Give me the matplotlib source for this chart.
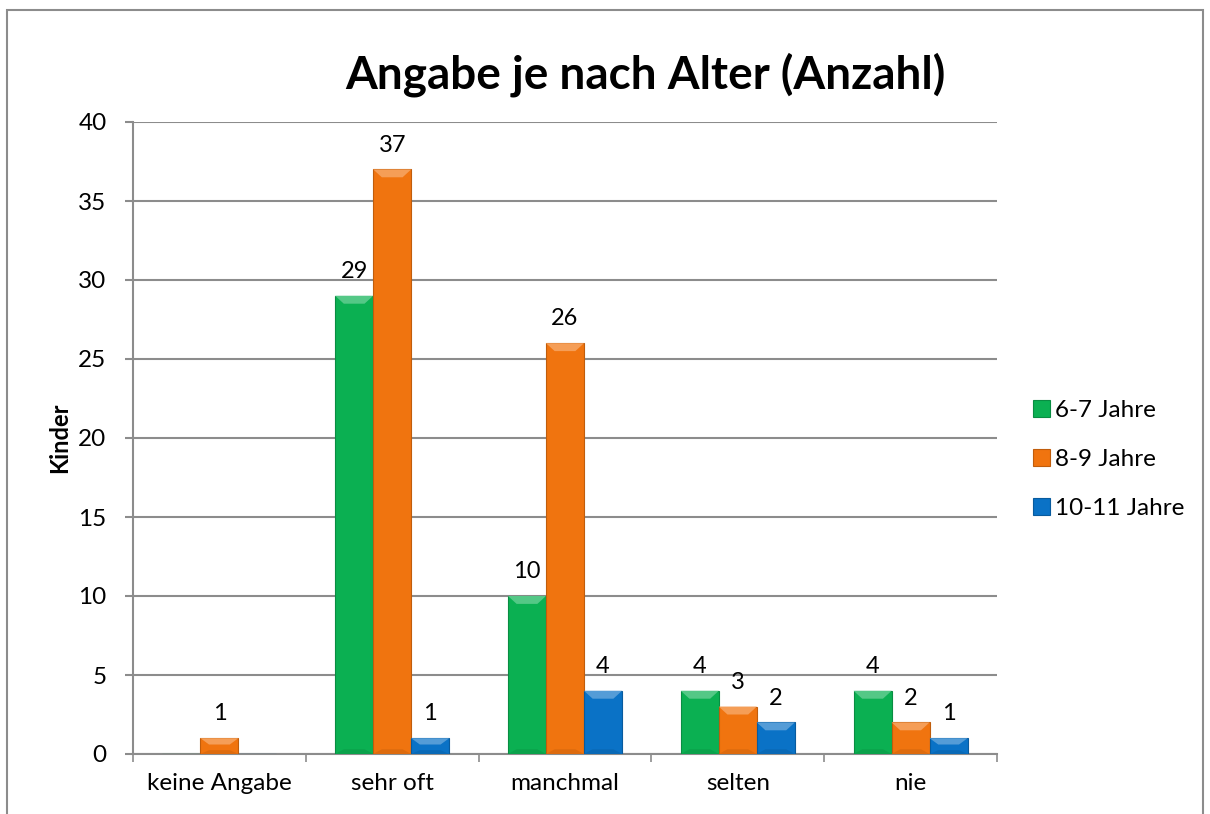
import numpy as np
import matplotlib
matplotlib.use("Agg")
import matplotlib.pyplot as plt
from matplotlib.patches import Rectangle, Polygon
from matplotlib.colors import to_rgb

plt.rcParams['font.family'] = ['Lato', 'DejaVu Sans']

categories = ['keine Angabe', 'sehr oft', 'manchmal', 'selten', 'nie']
series_names = ['6-7 Jahre', '8-9 Jahre', '10-11 Jahre']
age_6_7 = [0, 29, 10, 4, 4]
age_8_9 = [1, 37, 26, 3, 2]
age_10_11 = [0, 1, 4, 2, 1]
colors = ['#0BB052', '#F0740F', '#0A72C6']


def shade(c, f):
    r, g, b = to_rgb(c)
    if f < 1:
        return (r * f, g * f, b * f)
    return (r + (1 - r) * (f - 1), g + (1 - g) * (f - 1), b + (1 - b) * (f - 1))


fig = plt.figure(figsize=(12.1, 8.14), dpi=100)
ax = fig.add_axes([133 / 1210, 1 - 754 / 814, (997 - 133) / 1210, (754 - 122) / 814])

# outer chart border
fig.patches.append(Rectangle((7 / 1210, -0.01), 1196 / 1210, 1 - 10 / 814 + 0.01,
                             transform=fig.transFigure, fill=False,
                             edgecolor='#8C8C8C', linewidth=1.5))

x = np.arange(len(categories))
w = 0.22
bev_h = 0.5
bev_x = 0.05
handles = []
for i, (vals, col) in enumerate(zip([age_6_7, age_8_9, age_10_11], colors)):
    pos = x + (i - 1) * w
    bars = ax.bar(pos, vals, width=w, color=col, edgecolor=shade(col, 0.8),
                  linewidth=0.8, zorder=3, label=series_names[i])
    handles.append(bars)
    for b, v in zip(bars, vals):
        if v == 0:
            continue
        x0, x1 = b.get_x(), b.get_x() + b.get_width()
        top = b.get_height()
        h = min(bev_h, top * 0.4)
        ax.add_patch(Polygon([(x0, top), (x1, top), (x1 - bev_x, top - h), (x0 + bev_x, top - h)],
                             closed=True, facecolor=shade(col, 1.3), edgecolor='none', zorder=4))
        ax.add_patch(Polygon([(x0, 0), (x1, 0), (x1 - bev_x, h * 0.6), (x0 + bev_x, h * 0.6)],
                             closed=True, facecolor=shade(col, 0.92), edgecolor='none', zorder=4))
        ax.annotate(str(v), (b.get_x() + b.get_width() / 2, top), xytext=(0, 10),
                    textcoords='offset points', ha='center', va='bottom', fontsize=17, zorder=5)

ax.set_xlim(-0.5, len(categories) - 0.5)
ax.set_ylim(0, 40)
ax.set_yticks(range(0, 41, 5))
ax.yaxis.grid(True, color='#8C8C8C', linewidth=1.5, zorder=0)
ax.set_axisbelow(True)
ax.set_xticks(x)
ax.set_xticklabels(categories, fontsize=17.5)
ax.set_xticks(np.arange(-0.5, len(categories), 1), minor=True)
ax.tick_params(axis='x', which='major', length=0, pad=14)
ax.tick_params(axis='x', which='minor', length=6, color='#8C8C8C', width=1.2)
ax.tick_params(axis='y', labelsize=17.5, length=6, color='#8C8C8C', width=1.5, pad=13)
for s in ['top', 'right']:
    ax.spines[s].set_visible(False)
for s in ['left', 'bottom']:
    ax.spines[s].set_color('#8C8C8C')
    ax.spines[s].set_linewidth(1.5)

ax.set_ylabel('Kinder', fontsize=17, fontweight='bold', labelpad=5)
fig.text(645 / 1210, 1 - 75 / 814, 'Angabe je nach Alter (Anzahl)', ha='center', va='center',
         fontsize=33, fontweight='bold')

ax.legend(handles=handles, loc='center left', bbox_to_anchor=(1.042, 0.466), frameon=False,
          fontsize=17.5, handlelength=0.7, handleheight=0.7, handletextpad=0.2, labelspacing=1.15,
          borderpad=0, borderaxespad=0)

fig.savefig('out.png', dpi=100)
